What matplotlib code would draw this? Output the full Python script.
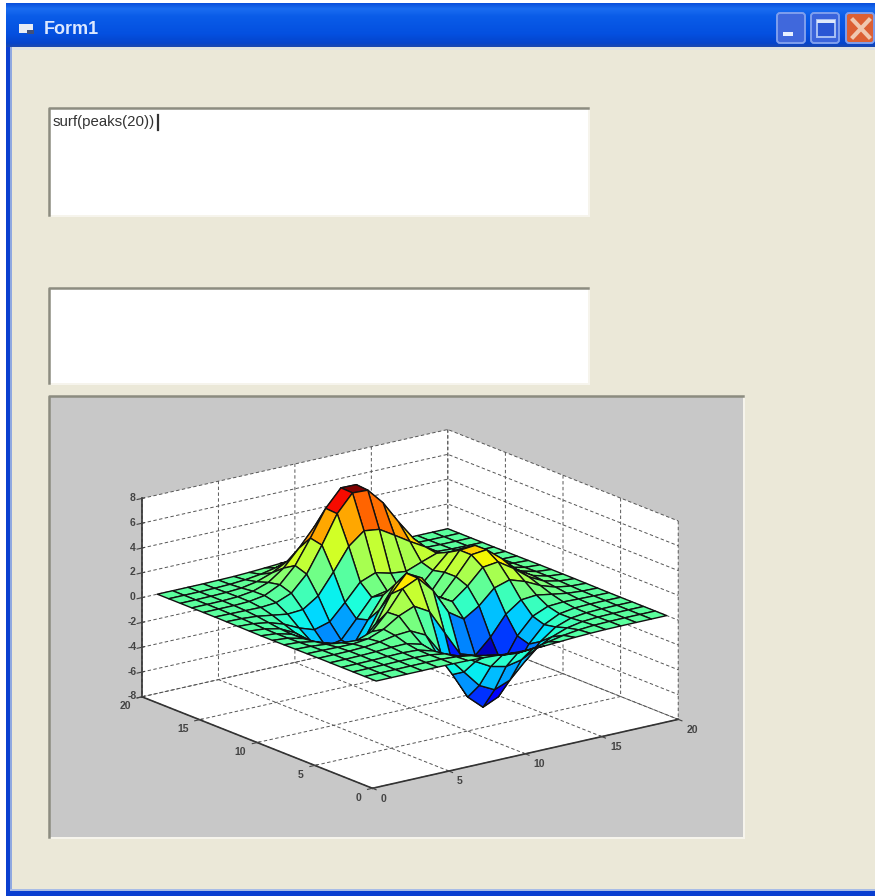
import numpy as np
import matplotlib
matplotlib.use('Agg')
import matplotlib.pyplot as plt
from matplotlib.patches import Rectangle, FancyBboxPatch
from matplotlib import cm
from matplotlib.colors import Normalize, LinearSegmentedColormap

# valores, uma lista por linha da grade (y = 1..20, x = 1..20)
z_linha_01 = [0.00, 0.00, 0.00, 0.00, 0.01, 0.00, -0.02, -0.07, -0.14, -0.22, -0.25, -0.23, -0.16, -0.09, -0.04, -0.01, 0.00, 0.00, 0.00, 0.00]
z_linha_02 = [0.00, 0.00, 0.00, 0.01, 0.01, 0.00, -0.08, -0.26, -0.53, -0.78, -0.89, -0.79, -0.55, -0.30, -0.13, -0.04, -0.01, 0.00, 0.00, 0.00]
z_linha_03 = [0.00, 0.00, 0.01, 0.02, 0.03, -0.02, -0.21, -0.68, -1.38, -2.06, -2.34, -2.08, -1.44, -0.79, -0.34, -0.11, -0.03, -0.01, 0.00, 0.00]
z_linha_04 = [0.00, 0.00, 0.01, 0.04, 0.06, 0.00, -0.35, -1.22, -2.59, -3.96, -4.58, -4.09, -2.84, -1.54, -0.64, -0.20, -0.05, -0.01, 0.00, 0.00]
z_linha_05 = [0.00, 0.00, 0.02, 0.06, 0.13, 0.15, -0.18, -1.26, -3.17, -5.26, -6.36, -5.80, -4.02, -2.11, -0.82, -0.22, -0.03, 0.01, 0.01, 0.00]
z_linha_06 = [0.00, 0.00, 0.01, 0.06, 0.20, 0.44, 0.53, -0.08, -1.82, -4.19, -5.80, -5.57, -3.82, -1.82, -0.51, 0.01, 0.09, 0.05, 0.02, 0.00]
z_linha_07 = [-0.01, -0.02, -0.05, -0.06, 0.09, 0.57, 1.36, 1.87, 1.17, -0.83, -2.80, -3.21, -2.01, -0.44, 0.44, 0.55, 0.34, 0.14, 0.04, 0.01]
z_linha_08 = [-0.02, -0.06, -0.17, -0.34, -0.42, 0.02, 1.30, 2.92, 3.49, 2.21, 0.19, -0.64, 0.14, 1.31, 1.69, 1.28, 0.68, 0.27, 0.08, 0.02]
z_linha_09 = [-0.03, -0.11, -0.32, -0.75, -1.24, -1.22, -0.01, 2.12, 3.52, 2.87, 1.10, 0.40, 1.37, 2.61, 2.77, 1.97, 1.01, 0.39, 0.12, 0.03]
z_linha_10 = [-0.04, -0.14, -0.45, -1.09, -1.98, -2.47, -1.64, 0.48, 2.23, 2.03, 0.67, 0.38, 1.76, 3.25, 3.38, 2.38, 1.21, 0.47, 0.14, 0.03]
z_linha_11 = [-0.04, -0.15, -0.47, -1.19, -2.24, -3.01, -2.54, -0.70, 1.03, 1.13, 0.20, 0.23, 1.75, 3.25, 3.36, 2.36, 1.20, 0.46, 0.14, 0.03]
z_linha_12 = [-0.03, -0.13, -0.40, -1.01, -1.93, -2.67, -2.42, -0.99, 0.47, 0.72, 0.14, 0.27, 1.53, 2.71, 2.77, 1.93, 0.98, 0.38, 0.11, 0.03]
z_linha_13 = [-0.02, -0.08, -0.27, -0.67, -1.26, -1.68, -1.32, -0.04, 1.33, 1.81, 1.49, 1.36, 1.83, 2.27, 2.06, 1.37, 0.68, 0.26, 0.08, 0.02]
z_linha_14 = [-0.01, -0.04, -0.13, -0.32, -0.51, -0.42, 0.40, 2.05, 3.84, 4.82, 4.66, 3.91, 3.13, 2.42, 1.66, 0.95, 0.43, 0.16, 0.04, 0.01]
z_linha_15 = [0.00, -0.02, -0.04, -0.06, 0.04, 0.53, 1.79, 3.85, 6.11, 7.51, 7.45, 6.15, 4.35, 2.71, 1.47, 0.69, 0.28, 0.09, 0.02, 0.01]
z_linha_16 = [0.00, 0.00, 0.00, 0.05, 0.25, 0.85, 2.11, 4.05, 6.17, 7.55, 7.53, 6.19, 4.24, 2.45, 1.20, 0.50, 0.18, 0.05, 0.01, 0.00]
z_linha_17 = [0.00, 0.00, 0.01, 0.06, 0.23, 0.66, 1.54, 2.86, 4.30, 5.26, 5.25, 4.31, 2.92, 1.64, 0.77, 0.30, 0.10, 0.03, 0.01, 0.00]
z_linha_18 = [0.00, 0.00, 0.01, 0.04, 0.12, 0.35, 0.79, 1.45, 2.18, 2.66, 2.66, 2.18, 1.47, 0.82, 0.38, 0.14, 0.05, 0.01, 0.00, 0.00]
z_linha_19 = [0.00, 0.00, 0.00, 0.01, 0.05, 0.14, 0.30, 0.56, 0.83, 1.01, 1.01, 0.83, 0.56, 0.31, 0.14, 0.05, 0.02, 0.00, 0.00, 0.00]
z_linha_20 = [0.00, 0.00, 0.00, 0.00, 0.02, 0.04, 0.09, 0.16, 0.24, 0.29, 0.29, 0.24, 0.16, 0.09, 0.04, 0.02, 0.00, 0.00, 0.00, 0.00]

ticks_xy = [0, 5, 10, 15, 20]
ticks_z = [-8, -6, -4, -2, 0, 2, 4, 6, 8]
texto_comando = 'surf(peaks(20))'
titulo_janela = 'Form1'

LARGURA, ALTURA = 875, 896
FUNDO = '#ebe8d8'


def desenhar_janela(fig):
    # Eixo em pixels para a janela do Windows
    bg = fig.add_axes([0, 0, 1, 1], zorder=0)
    bg.set_xlim(0, LARGURA)
    bg.set_ylim(ALTURA, 0)
    bg.axis('off')

    bg.add_patch(Rectangle((6, 3), LARGURA, ALTURA, color=FUNDO, lw=0))

    # Barra de titulo com degrade vertical
    barra = LinearSegmentedColormap.from_list('barra', [
        (0.0, '#0a4fdc'), (0.12, '#1a6cf0'), (0.3, '#0a5ce8'),
        (0.7, '#0450e0'), (0.92, '#0444cc'), (1.0, '#1a48b0')])
    grad = np.linspace(0, 1, 64).reshape(-1, 1)
    bg.imshow(grad, cmap=barra, extent=[6, LARGURA, 47, 3], aspect='auto', zorder=1)
    bg.set_xlim(0, LARGURA)
    bg.set_ylim(ALTURA, 0)

    # Bordas esquerda e inferior
    bg.add_patch(Rectangle((6, 47), 4, ALTURA, color='#0a3fd0', lw=0, zorder=1))
    bg.add_patch(Rectangle((10, 47), 2, ALTURA, color='#8fa8e0', lw=0, zorder=1))
    bg.add_patch(Rectangle((10, 889), LARGURA, 2, color='#a8bce6', lw=0, zorder=1))
    bg.add_patch(Rectangle((6, 891), LARGURA, 5, color='#0a3fd0', lw=0, zorder=1))
    bg.add_patch(Rectangle((12, 47), LARGURA, 3, color='#dfe3e2', lw=0, zorder=1))

    # Icone e titulo
    bg.add_patch(Rectangle((19, 24), 14, 9, color='#e8ecf4', lw=0, zorder=2))
    bg.add_patch(Rectangle((27, 30), 7, 4, color='#40507a', lw=0, zorder=2))
    bg.text(44, 29, titulo_janela, color='#dce8ff', fontsize=13, fontweight='bold',
            family='Liberation Sans', va='center', zorder=3)

    # Botoes
    botoes = [(776, '#4068dc'), (810, '#3a64dc'), (845, '#dc6034')]
    for x0, cor in botoes:
        bg.add_patch(FancyBboxPatch((x0 + 1, 13), 28, 30, boxstyle='round,pad=0,rounding_size=3',
                                    facecolor=cor, edgecolor='#7f9fee', lw=1.4, zorder=2))
    bg.add_patch(Rectangle((783, 32), 10, 4, color='#e8f0ff', lw=0, zorder=3))
    bg.add_patch(Rectangle((817, 20), 18, 17, facecolor='#2a56d4', edgecolor='#a8c0f4', lw=1.4, zorder=3))
    bg.add_patch(Rectangle((817, 20), 18, 3.5, color='#e0e8fa', lw=0, zorder=3))
    bg.plot([853, 869], [20, 37], color='#f0c8b0', lw=3, zorder=3)
    bg.plot([853, 869], [37, 20], color='#f0c8b0', lw=3, zorder=3)

    # Caixas de texto e painel
    for x0, y0, x1, y1, cor in [(49, 108, 588, 215, 'white'),
                                (49, 288, 588, 383, 'white'),
                                (49, 396, 743, 837, '#c8c8c8')]:
        bg.add_patch(Rectangle((x0, y0), x1 - x0 + 2, y1 - y0 + 2, color='#f6f4ec', lw=0, zorder=2))
        bg.add_patch(Rectangle((x0, y0), x1 - x0, y1 - y0, color=cor, lw=0, zorder=2))
        bg.plot([x0, x0, x1], [y1, y0, y0], color='#8c8c80', lw=1.8, zorder=3)

    bg.text(53, 122, texto_comando, fontsize=10.8, family='Liberation Sans', color='#333333',
            va='center', zorder=3)
    bg.plot([158, 158], [115, 130], color='#333333', lw=1.6, zorder=3)


def desenhar_superficie(fig, Z):
    plt.rcParams['grid.color'] = '#555555'
    plt.rcParams['grid.linewidth'] = 0.7
    plt.rcParams['grid.linestyle'] = (0, (3.5, 2.5))
    plt.rcParams['axes.unicode_minus'] = False

    lado = 600
    esq = 102 / LARGURA
    base = (ALTURA - 917) / ALTURA
    ax = fig.add_axes([esq, base, lado / LARGURA, lado / ALTURA],
                      projection='3d', proj_type='ortho', zorder=1)
    ax.patch.set_visible(False)
    ax.view_init(elev=17.4, azim=-127)
    ax.set_box_aspect((1, 1, 0.543), zoom=0.9385)

    x = np.arange(1, Z.shape[1] + 1)
    y = np.arange(1, Z.shape[0] + 1)
    X, Y = np.meshgrid(x, y)

    # Cor de cada face pelo canto, como no surf
    norma = Normalize(vmin=Z.min(), vmax=Z.max())
    cores = cm.jet(norma(Z))
    ax.plot_surface(X, Y, Z, facecolors=cores, rstride=1, cstride=1,
                    edgecolor='#111111', linewidth=1.0, shade=False)

    ax.set_xlim(0, 20)
    ax.set_ylim(0, 20)
    ax.set_zlim(-8, 8)
    ax.set_xticks(ticks_xy)
    ax.set_yticks(ticks_xy)
    ax.set_zticks(ticks_z)

    for eixo in (ax.xaxis, ax.yaxis, ax.zaxis):
        eixo.set_pane_color('white')
        eixo.pane.set_edgecolor('none')
        eixo.line.set_color('#333333')
        eixo.line.set_linewidth(1.2)
        eixo.set_tick_params(labelsize=7.5, colors='#444444', pad=0)
        for rotulo in eixo.get_ticklabels():
            rotulo.set_family('Liberation Sans')
            rotulo.set_fontweight('bold')
    ax.zaxis.set_tick_params(pad=-4)

    # Ajuste fino da posicao dos rotulos
    plt.setp(ax.get_xticklabels(), ha='left', va='center')
    plt.setp(ax.get_yticklabels(), ha='right', va='center')
    plt.setp(ax.get_zticklabels(), va='center')
    return ax


if __name__ == "__main__":
    Z = np.array([z_linha_01, z_linha_02, z_linha_03, z_linha_04, z_linha_05,
                  z_linha_06, z_linha_07, z_linha_08, z_linha_09, z_linha_10,
                  z_linha_11, z_linha_12, z_linha_13, z_linha_14, z_linha_15,
                  z_linha_16, z_linha_17, z_linha_18, z_linha_19, z_linha_20])

    fig = plt.figure(figsize=(LARGURA / 100, ALTURA / 100), dpi=100, facecolor='white')
    desenhar_janela(fig)
    desenhar_superficie(fig, Z)
    fig.savefig('out.png', dpi=100)
